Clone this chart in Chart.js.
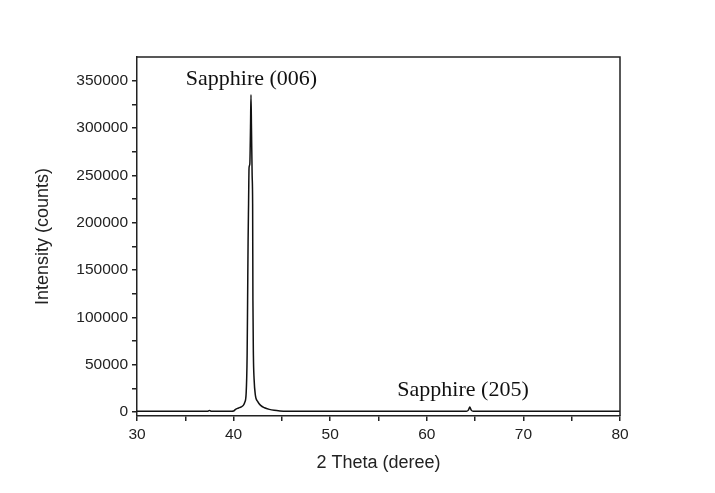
<!DOCTYPE html>
<html>
<head>
<meta charset="utf-8">
<script src="https://cdn.jsdelivr.net/npm/chart.js@4/dist/chart.umd.min.js"></script>
<style>
  html, body { margin: 0; padding: 0; background: #fff; }
  #wrap { width: 715px; height: 493px; }
</style>
</head>
<body>
<div id="wrap"><canvas id="xrd"></canvas></div>
<script>
// 2 theta (degree) and intensity (counts)
const twoTheta = [30, 33, 37.3, 37.5, 37.7, 39.8, 40.0, 40.2, 40.5, 40.8, 41.0, 41.15, 41.3, 41.4,
  41.45, 41.5, 41.55, 41.6, 41.68, 41.75, 41.8, 41.85, 41.92, 41.97, 42.0, 42.05, 42.12, 42.25,
  42.5, 42.8, 43.2, 43.7, 44.2, 44.8, 45.5, 48, 55, 64.1, 64.3, 64.45, 64.6, 64.8, 70, 80];
const intensity = [800, 800, 800, 1700, 800, 900, 1100, 2800, 4200, 5500, 7000, 10000, 20000, 60000,
  118000, 180000, 220000, 258000, 262000, 300000, 335000, 300000, 250000, 220000, 118000, 60000, 35000, 18000,
  11000, 7000, 4500, 2800, 1800, 1200, 900, 800, 800, 800, 2000, 5200, 2000, 800, 800, 800];

const xTicks = [30, 35, 40, 45, 50, 55, 60, 65, 70, 75, 80];
const xLabels = [30, 40, 50, 60, 70, 80];
const yTicks = [0, 25000, 50000, 75000, 100000, 125000, 150000, 175000, 200000, 225000,
  250000, 275000, 300000, 325000, 350000];
const yLabels = [0, 50000, 100000, 150000, 200000, 250000, 300000, 350000];

// peak labels, placed in data units
const peakNames = ["Sapphire (006)", "Sapphire (205)"];
const peakLabelX = [41.85, 63.75];
const peakLabelY = [352000, 23500];

const frame = {
  id: "frame",
  afterDraw(chart) {
    const { ctx, chartArea: a, scales } = chart;
    ctx.save();
    ctx.strokeStyle = "#222";
    ctx.lineWidth = 1.5;
    ctx.beginPath();
    ctx.moveTo(a.left, a.top);
    ctx.lineTo(a.right, a.top);
    ctx.lineTo(a.right, a.bottom);
    ctx.stroke();

    ctx.fillStyle = "#111";
    ctx.font = "22px 'Liberation Serif', 'Times New Roman', serif";
    ctx.textAlign = "center";
    ctx.textBaseline = "middle";
    peakNames.forEach((name, i) => {
      ctx.fillText(name, scales.x.getPixelForValue(peakLabelX[i]), scales.y.getPixelForValue(peakLabelY[i]));
    });
    ctx.restore();
  }
};

const tickFont = { family: "'Liberation Sans', Arial, sans-serif", size: 15.5 };
const titleFont = { family: "'Liberation Sans', Arial, sans-serif", size: 18 };

new Chart(document.getElementById("xrd"), {
  type: "line",
  data: {
    datasets: [{
      data: twoTheta.map((t, i) => ({ x: t, y: intensity[i] })),
      borderColor: "#111",
      borderWidth: 1.5,
      pointRadius: 0,
      cubicInterpolationMode: "monotone",
      fill: false
    }]
  },
  options: {
    responsive: true,
    maintainAspectRatio: false,
    animation: false,
    layout: { padding: { top: 57, right: 95, left: 0, bottom: 0 } },
    plugins: { legend: { display: false }, tooltip: { enabled: false } },
    scales: {
      x: {
        type: "linear",
        min: 30,
        max: 80,
        afterBuildTicks: (s) => { s.ticks = xTicks.map(v => ({ value: v })); },
        afterFit: (s) => { s.height = 77; },
        border: { display: true, color: "#222", width: 1.5 },
        grid: { drawOnChartArea: false, drawTicks: true, tickLength: 5, color: "#222", lineWidth: 1.5 },
        ticks: {
          color: "#222",
          font: tickFont,
          padding: 4,
          maxRotation: 0,
          autoSkip: false,
          callback: (v) => xLabels.includes(v) ? String(v) : ""
        },
        title: { display: true, text: "2 Theta (deree)", color: "#222", font: titleFont, padding: { top: 0, bottom: 19 } }
      },
      y: {
        min: -4200,
        max: 375000,
        afterBuildTicks: (s) => { s.ticks = yTicks.map(v => ({ value: v })); },
        afterFit: (s) => { s.width = 137; },
        border: { display: true, color: "#222", width: 1.5 },
        grid: { drawOnChartArea: false, drawTicks: true, tickLength: 5, color: "#222", lineWidth: 1.5 },
        ticks: {
          color: "#222",
          font: tickFont,
          padding: 4,
          autoSkip: false,
          callback: (v) => yLabels.includes(v) ? String(v) : ""
        },
        title: { display: true, text: "Intensity (counts)", color: "#222", font: titleFont, padding: { top: 32, bottom: 0 } }
      }
    }
  },
  plugins: [frame]
});
</script>
</body>
</html>
